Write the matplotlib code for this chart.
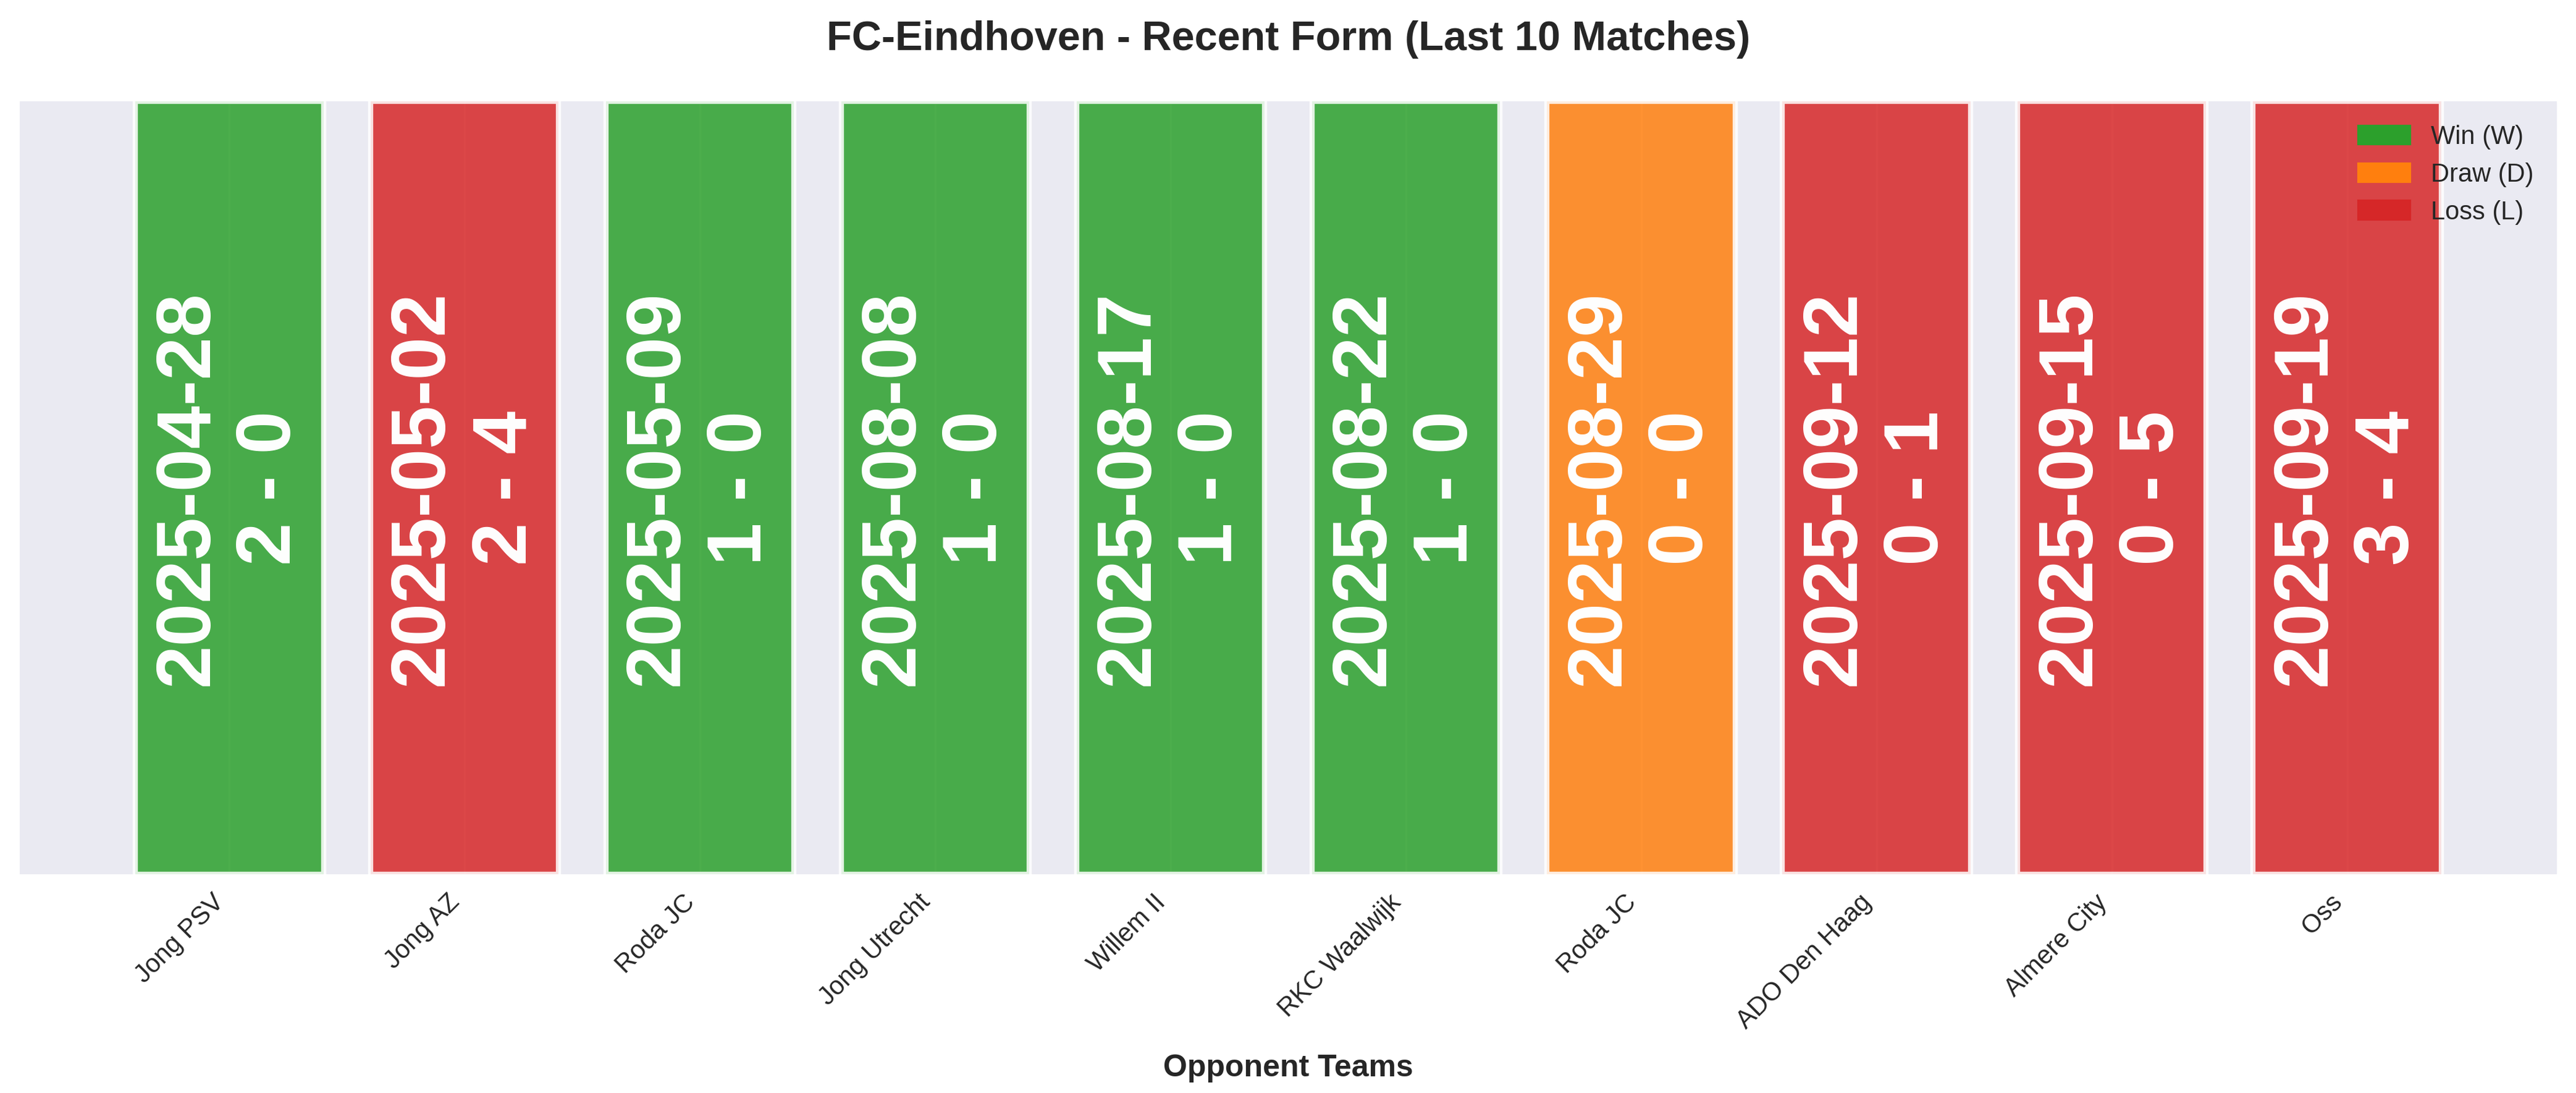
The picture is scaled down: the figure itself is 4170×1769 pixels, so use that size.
import matplotlib
matplotlib.use("Agg")
import matplotlib.pyplot as plt
from matplotlib.patches import Patch

# last 10 matches of FC-Eindhoven
opponents = ["Jong PSV", "Jong AZ", "Roda JC", "Jong Utrecht", "Willem II",
             "RKC Waalwijk", "Roda JC", "ADO Den Haag", "Almere City", "Oss"]
dates = ["2025-04-28", "2025-05-02", "2025-05-09", "2025-08-08", "2025-08-17",
         "2025-08-22", "2025-08-29", "2025-09-12", "2025-09-15", "2025-09-19"]
scores = ["2 - 0", "2 - 4", "1 - 0", "1 - 0", "1 - 0",
          "1 - 0", "0 - 0", "0 - 1", "0 - 5", "3 - 4"]
results = ["W", "L", "W", "W", "W", "W", "D", "L", "L", "L"]

colors = {"W": "#2ca02c", "D": "#ff7f0e", "L": "#d62728"}

plt.style.use("seaborn-v0_8-darkgrid")

fig = plt.figure(figsize=(13.9, 5.897), dpi=300)
ax = fig.add_subplot(1, 1, 1)
fig.subplots_adjust(left=0.0077, right=0.9925, top=0.907, bottom=0.20)

x = range(len(opponents))
ax.bar(x, [1] * len(opponents), width=0.8,
       color=[colors[r] for r in results], alpha=0.85,
       edgecolor="white", linewidth=2)

for i in x:
    ax.text(i, 0.5, dates[i] + "\n" + scores[i], rotation=90,
            ha="center", va="center", color="white",
            fontsize=30, fontweight="bold")

ax.set_ylim(0, 1)
ax.set_yticks([])
ax.set_xticks(list(x))
ax.set_xticklabels(opponents, rotation=45, ha="right", fontsize=10)
ax.tick_params(axis="x", pad=6)
ax.set_xlabel("Opponent Teams", fontsize=12, fontweight="bold", labelpad=8)
ax.set_title("FC-Eindhoven - Recent Form (Last 10 Matches)",
             fontsize=16, fontweight="bold", pad=20)

handles = [Patch(color=colors["W"], label="Win (W)"),
           Patch(color=colors["D"], label="Draw (D)"),
           Patch(color=colors["L"], label="Loss (L)")]
ax.legend(handles=handles, loc="upper right", fontsize=10)

plt.savefig("out.png", dpi=300)
